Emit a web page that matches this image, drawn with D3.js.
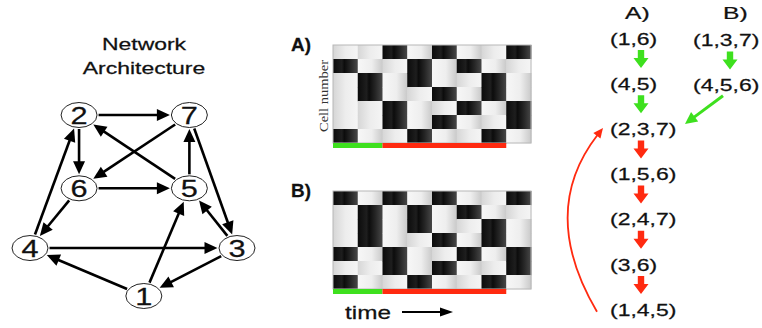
<!DOCTYPE html>
<html><head><meta charset="utf-8">
<script src="https://cdn.jsdelivr.net/npm/d3@7"></script>
<style>html,body{margin:0;padding:0;background:#fff;}svg{display:block;}</style>
</head><body>
<svg id="c" width="762" height="328"></svg>
<script>
// ---------------- data ----------------
const cellIds = [7, 6, 5, 4, 3, 2, 1];           // rows, top to bottom
const statesA = [[1,6],[4,5],[2,3,7],[1,5,6],[2,4,7],[3,6],[1,4,5],[2,3,7]];
const statesB = [[1,3,7],[4,5,6],[2,3,7],[1,5,6],[2,4,7],[3,6],[1,4,5],[2,3,7]];
const transientLen = 2;   // green part of time bar (columns)
const cycleLen = 5;       // red part of time bar (columns)
const edges = [[2,7],[2,6],[7,6],[5,2],[6,5],[5,7],[7,3],[6,4],[4,2],[4,3],[3,5],[3,1],[1,4],[1,5]];
const nodeIds = [1,2,3,4,5,6,7];
// abstract layout of the network (unit square)
const nodeLayoutX = {1:0.55, 2:0.237, 3:1.0, 4:0.0, 5:0.77, 6:0.237, 7:0.77};
const nodeLayoutY = {1:1.0, 2:0.0, 3:0.735, 4:0.735, 5:0.405, 6:0.405, 7:0.0};
const seqA = statesA.slice(0, 7);
const seqB = statesB.slice(0, 2);
const titleLines = ["Network", "Architecture"];

// ---------------- setup ----------------
const svg = d3.select("#c");
const FONT = "'Liberation Sans', Arial, Helvetica, sans-serif";
const GREEN = "#3ee01e", RED = "#ff2a10";
const defs = svg.append("defs");

function grad(id, stops) {
  const g = defs.append("linearGradient").attr("id", id).attr("x1", "0%").attr("x2", "100%").attr("y1", "0%").attr("y2", "0%");
  stops.forEach(([o, c]) => g.append("stop").attr("offset", o).attr("stop-color", c));
}
grad("on", [["0%", "#0b0b0b"], ["35%", "#1e1e1e"], ["45%", "#0c0c0c"], ["70%", "#262626"], ["100%", "#4a4a4a"]]);
grad("offAfterOn", [["0%", "#f7f7f7"], ["55%", "#eeeeee"], ["100%", "#c8c8c8"]]);
grad("offAfterOff", [["0%", "#d6d6d6"], ["50%", "#ededed"], ["100%", "#f5f5f5"]]);

function stext(g, x, y, str, size, sx, anchor, weight) {
  return g.append("text")
    .attr("transform", `translate(${x},${y}) scale(${sx},1)`)
    .attr("text-anchor", anchor || "start")
    .attr("font-family", FONT)
    .attr("font-size", size)
    .attr("font-weight", weight || "normal")
    .attr("fill", "#111")
    .attr("stroke", "#111").attr("stroke-width", 0.25)
    .text(str);
}

// ---------------- network ----------------
const net = svg.append("g");
const nx = d3.scaleLinear().domain([0, 1]).range([30, 237]);
const ny = d3.scaleLinear().domain([0, 1]).range([115, 296]);
const RX = 18, RY = 12.5;
const pos = {};
nodeIds.forEach(id => pos[id] = [nx(nodeLayoutX[id]), ny(nodeLayoutY[id])]);

titleLines.forEach((t, i) => stext(net, 144, 50 + i * 24, t, 17, 1.35, "middle"));

function ellipseDist(ux, uy) { return 1 / Math.sqrt((ux / RX) ** 2 + (uy / RY) ** 2); }
const HEAD_L = 13, HEAD_W = 12, GAP = 1.5;
edges.forEach(([a, b]) => {
  const [x1, y1] = pos[a], [x2, y2] = pos[b];
  const dx = x2 - x1, dy = y2 - y1, L = Math.hypot(dx, dy);
  const ux = dx / L, uy = dy / L;
  const d = ellipseDist(ux, uy);
  const sx0 = x1 + ux * (d + GAP), sy0 = y1 + uy * (d + GAP);
  const tx = x2 - ux * (d + GAP), ty = y2 - uy * (d + GAP);
  const bx = tx - ux * HEAD_L, by = ty - uy * HEAD_L;
  net.append("line").attr("x1", sx0).attr("y1", sy0).attr("x2", bx + ux * 1).attr("y2", by + uy * 1)
    .attr("stroke", "#000").attr("stroke-width", 2.6);
  const px = -uy, py = ux;
  net.append("polygon")
    .attr("points", [[tx, ty], [bx + px * HEAD_W / 2, by + py * HEAD_W / 2], [bx - px * HEAD_W / 2, by - py * HEAD_W / 2]].map(p => p.join(",")).join(" "))
    .attr("fill", "#000");
});
nodeIds.forEach(id => {
  const [x, y] = pos[id];
  net.append("ellipse").attr("cx", x).attr("cy", y).attr("rx", RX).attr("ry", RY)
    .attr("fill", "#fff").attr("stroke", "#222").attr("stroke-width", 1);
  stext(net, x, y + 8.5, String(id), 24, 1.28, "middle");
});

// ---------------- heatmaps ----------------
function heatmap(states, top, label) {
  const g = svg.append("g");
  const x = d3.scaleBand().domain(d3.range(states.length)).range([333, 531]);
  const y = d3.scaleBand().domain(cellIds).range([top, top + 98]);
  states.forEach((s, j) => {
    cellIds.forEach(c => {
      const on = s.includes(c);
      const prevOn = j > 0 && states[j - 1].includes(c);
      g.append("rect").attr("x", x(j)).attr("y", y(c))
        .attr("width", x.bandwidth() + 0.5).attr("height", y.bandwidth() + 0.3)
        .attr("fill", on ? "url(#on)" : (prevOn ? "url(#offAfterOn)" : "url(#offAfterOff)"));
    });
  });
  g.append("rect").attr("x", 333).attr("y", top).attr("width", 198).attr("height", 98)
    .attr("fill", "none").attr("stroke", "#b8b8b8").attr("stroke-width", 1);
  // time bars
  const by = top + 98;
  g.append("rect").attr("x", x(0)).attr("y", by).attr("width", x(transientLen) - x(0)).attr("height", 5).attr("fill", GREEN);
  g.append("rect").attr("x", x(transientLen)).attr("y", by)
    .attr("width", x.bandwidth() * cycleLen).attr("height", 5).attr("fill", RED);
  stext(g, 291, top + 5.5, label, 18, 1.05, "start", "bold");
  return g;
}
heatmap(statesA, 45, "A)");
heatmap(statesB, 191, "B)");

svg.append("text")
  .attr("transform", "translate(328,96) rotate(-90)")
  .attr("text-anchor", "middle")
  .attr("font-family", "'Liberation Serif', 'Times New Roman', serif")
  .attr("font-size", 13)
  .attr("fill", "#333")
  .attr("textLength", 72).attr("lengthAdjust", "spacingAndGlyphs")
  .text("Cell number");

// time label and arrow
stext(svg, 345, 319, "time", 19, 1.28, "start");
svg.append("line").attr("x1", 402).attr("y1", 312).attr("x2", 442).attr("y2", 312).attr("stroke", "#000").attr("stroke-width", 2);
svg.append("polygon").attr("points", "453,312 440,307.5 440,316.5").attr("fill", "#000");

// ---------------- state sequences ----------------
const fmt = s => "(" + s.join(",") + ")";
const yA = d3.scaleLinear().domain([0, 6]).range([44.5, 315.7]);
const leftA = 610, leftB = 693;
const rs = svg.append("g");
stext(rs, 625, 18.5, "A)", 17, 1.45, "start");
stext(rs, 723, 18.5, "B)", 17, 1.45, "start");
seqA.forEach((s, i) => stext(rs, leftA, yA(i), fmt(s), 17, 1.35, "start"));
seqB.forEach((s, i) => stext(rs, leftB, yA(i) + 1.5, fmt(s), 17, 1.35, "start"));

function fatArrow(cx, yTop, color) {
  const sh = 3.2, hw = 7.5, shaftL = 8, headL = 10;
  rs.append("polygon").attr("points", [
    [cx - sh, yTop], [cx + sh, yTop], [cx + sh, yTop + shaftL], [cx + hw, yTop + shaftL],
    [cx, yTop + shaftL + headL], [cx - hw, yTop + shaftL], [cx - sh, yTop + shaftL]
  ].map(p => p.join(",")).join(" ")).attr("fill", color);
}
for (let i = 0; i < seqA.length - 1; i++) {
  fatArrow(leftA + 31, yA(i) + 5.5, i < transientLen ? GREEN : RED);
}
for (let i = 0; i < seqB.length - 1; i++) {
  fatArrow(leftB + 37, yA(i) + 7, GREEN);
}
// diagonal green arrow from B's last transient state into A's cycle entry
(function () {
  const x1 = leftB + 30, y1 = yA(seqB.length - 1) + 6;
  const tx = leftA + 75, ty = yA(transientLen) - 11;
  const dx = tx - x1, dy = ty - y1, L = Math.hypot(dx, dy), ux = dx / L, uy = dy / L;
  const hl = 12, hw = 12, bx = tx - ux * hl, by = ty - uy * hl;
  rs.append("line").attr("x1", x1).attr("y1", y1).attr("x2", bx + ux).attr("y2", by + uy)
    .attr("stroke", GREEN).attr("stroke-width", 3);
  rs.append("polygon").attr("points", [[tx, ty], [bx - uy * hw / 2, by + ux * hw / 2], [bx + uy * hw / 2, by - ux * hw / 2]].map(p => p.join(",")).join(" "))
    .attr("fill", GREEN);
})();
// red return arc from last state of the cycle back to its start
(function () {
  const x0 = leftA - 13, y0 = yA(6) - 4;
  const tx = leftA - 7, ty = yA(transientLen) - 7;
  const cx = leftA - 72, cy = (y0 + ty) / 2 - 8;
  let ux = tx - cx, uy = ty - cy; const L = Math.hypot(ux, uy); ux /= L; uy /= L;
  const hl = 10, hw = 9, bx = tx - ux * hl, by = ty - uy * hl;
  rs.append("path").attr("d", `M${x0},${y0} Q${cx},${cy} ${bx + ux},${by + uy}`)
    .attr("fill", "none").attr("stroke", RED).attr("stroke-width", 1.8);
  rs.append("polygon").attr("points", [[tx, ty], [bx - uy * hw / 2, by + ux * hw / 2], [bx + uy * hw / 2, by - ux * hw / 2]].map(p => p.join(",")).join(" "))
    .attr("fill", RED);
})();
</script>
</body></html>
